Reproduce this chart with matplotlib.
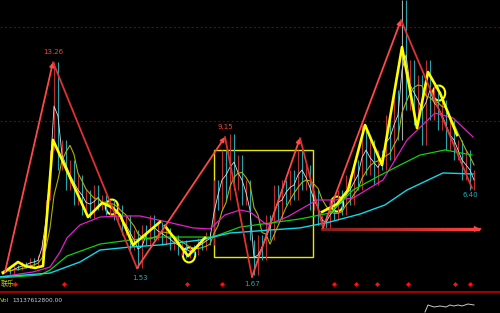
import numpy as np
import pandas as pd
import matplotlib
matplotlib.use('Agg')
import matplotlib.pyplot as plt
from matplotlib.patches import Ellipse, Rectangle
from matplotlib.collections import LineCollection

plt.rcParams['font.family'] = ['DejaVu Sans', 'Noto Sans CJK SC']

# precios de cierre (una barra cada 4 px)
close = [1.31, 1.54, 1.20, 1.71, 1.42, 1.88, 1.54, 2.11, 1.65, 2.28,
         3.13, 5.41, 8.26, 13.26, 7.12, 8.83, 5.98, 7.69, 5.13, 6.83,
         4.56, 5.98, 4.38, 6.26, 4.84, 5.69, 4.56, 5.41, 4.27, 5.13,
         3.42, 4.56, 2.56, 3.70, 1.53, 3.99, 2.85, 4.56, 3.13, 4.16,
         2.85, 3.82, 2.56, 3.42, 2.28, 3.13, 2.11, 2.85, 2.28, 3.25,
         2.56, 3.59, 2.85, 6.55, 4.84, 8.26, 5.41, 9.15, 5.98, 7.97,
         5.13, 6.55, 3.13, 1.14, 3.42, 1.99, 4.56, 3.13, 6.26, 4.27,
         6.55, 5.13, 7.12, 5.41, 8.26, 5.98, 7.40, 4.84, 5.98, 3.99,
         4.56, 3.70, 5.41, 4.27, 5.98, 4.56, 6.83, 5.13, 7.69, 5.98,
         9.68, 6.83, 8.83, 6.26, 8.26, 7.12, 10.25, 7.69, 11.67, 8.83,
         16.80, 10.54, 13.38, 9.68, 12.53, 8.54, 13.38, 9.97, 11.96, 9.40,
         11.10, 8.26, 9.97, 7.69, 8.83, 6.55, 8.26, 5.98, 7.12]
days = np.arange(len(close)) + 0.5

# medias lentas
ma_mag_x = [0, 8.25, 12.5, 15, 16.75, 20, 25, 30, 35, 41.75, 48.25, 52.5, 56.25,
            60, 62.5, 66.75, 71.75, 79.25, 83.75, 88.25, 95.75, 101.75, 108.75, 113.25, 118.25]
ma_mag = [1.03, 1.31, 1.59, 2.45, 3.25, 3.99, 4.44, 4.50, 4.50, 4.16, 3.82, 3.76, 4.56,
          4.84, 4.73, 3.99, 4.44, 5.41, 5.41, 5.52, 6.55, 8.83, 10.36, 10.08, 9.00]
ma_green_x = [0, 10, 12.5, 16.75, 25, 32.5, 40, 53.25, 60, 67.5, 75, 82.5, 88.25,
              94.25, 100, 105, 111.25, 118]
ma_green = [0.97, 1.14, 1.42, 2.22, 2.90, 3.13, 3.30, 3.30, 3.87, 4.10, 4.33, 4.67, 5.98,
            6.72, 7.40, 7.97, 8.26, 7.97]
ma_cyan_x = [0, 12.5, 20, 25, 32.5, 40, 50, 57.5, 67.5, 75, 82.5, 90, 96.25,
             101.75, 110.75, 118.25]
ma_cyan = [1.03, 1.25, 1.88, 2.56, 2.73, 2.85, 3.13, 3.53, 3.70, 3.82, 4.16, 4.61, 5.13,
           5.98, 6.95, 6.89]

# zigzag amarillo
yel1_x = [0.75, 4.5, 6.25, 8.75, 10.75, 13.25, 22, 25.5, 28, 30, 33.25, 40]
yel1 = [1.25, 1.88, 1.65, 1.54, 1.65, 8.83, 4.44, 5.24, 5.01, 4.56, 2.85, 4.16]
yel2_x = [41.25, 47, 51.25]
yel2 = [3.93, 2.22, 3.25]
yel3_x = [80.5, 84.25, 87, 91.25, 95.5, 100.5, 104.25, 107, 110, 114.25]
yel3 = [4.73, 5.18, 5.98, 9.68, 7.40, 14.12, 9.51, 12.70, 11.50, 9.11]

# zigzag rojo y etiquetas
red_x = [1.25, 13.25, 34.25, 56.25, 63, 75, 80.75, 100.25, 118]
red_y = [1.31, 13.26, 1.53, 9.0, 1.03, 8.94, 3.82, 15.66, 6.09]
labels = ['13.26', '1.53', '9.15', '1.67', '6.40']
label_x = [13.25, 35, 56.25, 63, 117.5]
label_y = [13.85, 0.95, 9.55, 0.65, 5.7]
label_c = ['#ff4040', '#20b0b8', '#ff4040', '#20b0b8', '#20b0b8']

circ_x = [28, 47.25, 84.25, 109.75]
circ_y = [5.01, 2.28, 5.18, 11.50]
diamonds = [3.75, 16, 46.75, 55.5, 83.5, 89, 94.25, 102, 113.75, 117.5]

vol_x = [106.25, 107, 108.5, 110, 111.5, 112.5, 113.5, 114.5, 115.5, 117, 118.5]
vol_y = [1, 8, 6, 7, 6, 8, 7, 8, 7, 9, 8]

fig = plt.figure(figsize=(5, 3.13), dpi=100, facecolor='black')
ax = fig.add_axes([0, 21 / 313, 1, 292 / 313], facecolor='black')
ax.set_xlim(0, 125)
ax.set_ylim(0.17, 16.8)
ax.axis('off')

# lineas de referencia
for lvl in [15.26, 9.91]:
    ax.axhline(lvl, color='#7a0000', lw=0.8, ls=(0, (2, 2)))

# velas (apertura = cierre anterior)
c = np.array(close)
o = np.r_[c[0], c[:-1]]
for d, op, cl in zip(days, o, c):
    if cl > 16:
        col = '#a8a8a8'
    elif cl >= op:
        col = '#b83030'
    else:
        col = '#28a4ac'
    ax.vlines(d, min(op, cl), max(op, cl), color=col, lw=0.8)

s = pd.Series(close)
ax.plot(days, s.rolling(2, min_periods=1).mean(), color='#e0e0e0', lw=0.6)
ax.plot(days, s.rolling(6, min_periods=1).mean(), color='#b0b000', lw=0.8)

ax.plot(ma_mag_x, ma_mag, color='#e020c8', lw=0.9)
ax.plot(ma_green_x, ma_green, color='#10d010', lw=0.9)
ax.plot(ma_cyan_x, ma_cyan, color='#10d8e8', lw=1.0)

# zigzag rojo
for i in range(len(red_x) - 1):
    up = red_y[i + 1] > red_y[i]
    col = '#ff4848' if up else '#e03030'
    ax.annotate('', xy=(red_x[i + 1], red_y[i + 1]), xytext=(red_x[i], red_y[i]),
                arrowprops=dict(arrowstyle='-|>' if up else '-', color=col, lw=1.3,
                                mutation_scale=6, shrinkA=0, shrinkB=0))
for t, lx, ly, lc in zip(labels, label_x, label_y, label_c):
    ax.text(lx, ly, t, color=lc, fontsize=5, ha='center', va='center')

# zigzag amarillo
ax.plot(yel1_x, yel1, color='#ffff00', lw=1.9)
ax.plot(yel2_x, yel2, color='#ffff00', lw=1.9)
ax.plot(yel3_x, yel3, color='#ffff00', lw=1.9)
for cx, cy in zip(circ_x, circ_y):
    ax.add_patch(Ellipse((cx, cy), 3.1, 0.85, fill=False, ec='#ffff00', lw=1.5))

ax.add_patch(Rectangle((53.5, 2.16), 24.75, 6.1, fill=False, ec='#e8e800', lw=1.0))

# flecha horizontal roja en degradado
seg = np.linspace(80.5, 119.5, 40)
pts = np.array([[x, 3.76] for x in seg])
segs = np.stack([pts[:-1], pts[1:]], axis=1)
f = np.linspace(0, 1, len(segs))
cols = np.c_[0.5 + 0.5 * f, 0.12 + 0.13 * f, 0.12 + 0.13 * f]
ax.add_collection(LineCollection(segs, colors=cols, linewidths=2.3, capstyle='projecting'))
ax.annotate('', xy=(120.8, 3.76), xytext=(119.3, 3.76),
            arrowprops=dict(arrowstyle='-|>', color='#ff4040', lw=1, mutation_scale=8))

ax.plot(diamonds, [0.63] * len(diamonds), 'D', color='#ff1010', ms=2.5, mec='none')
ax.text(0.1, 0.62, '联乐', color='#c8c800', fontsize=5, va='center',
        family=['Noto Sans CJK SC', 'DejaVu Sans'])

# panel de volumen
axv = fig.add_axes([0, 0, 1, 21 / 313], facecolor='black')
axv.set_xlim(0, 125)
axv.set_ylim(0, 21)
axv.set_xticks([])
axv.set_yticks([])
for sp in axv.spines.values():
    sp.set_visible(False)
axv.spines['top'].set_visible(True)
axv.spines['top'].set_color('#a00000')
axv.spines['top'].set_linewidth(1.5)
axv.plot(vol_x, vol_y, color='#c8c8c8', lw=0.7)
axv.text(0.1, 13, 'Vol', color='#c8c800', fontsize=4.5, va='center')
axv.text(3.2, 13, '13137612800.00', color='#d0d0d0', fontsize=4.2, va='center')

fig.savefig('out.png', dpi=100, facecolor='black')
